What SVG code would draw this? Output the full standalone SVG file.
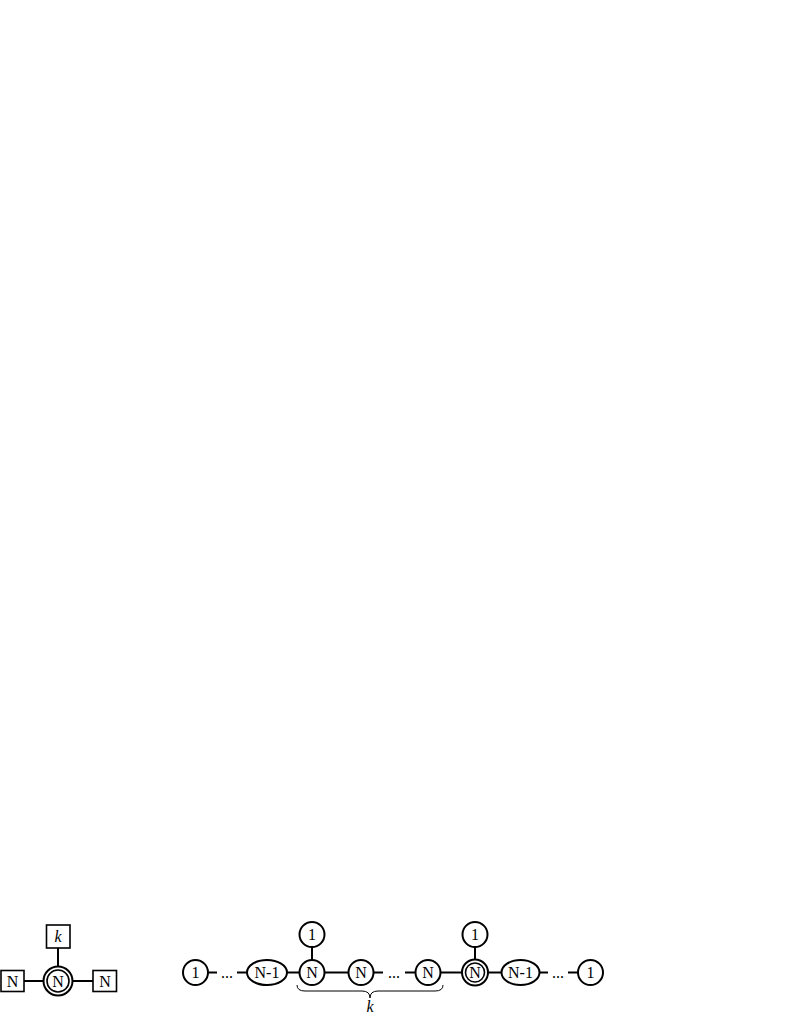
<svg xmlns="http://www.w3.org/2000/svg" width="789" height="1021" viewBox="0 0 789 1021">
<style>
.s{fill:#fff;stroke:#000;stroke-width:2}
.d{fill:#fff;stroke:#000;stroke-width:1.6}
.e{stroke:#000;stroke-width:2;fill:none}
.t{font-family:"Liberation Serif","Times New Roman",serif;font-size:16px;text-anchor:middle;fill:#000}
.i{font-style:italic}
</style>
<rect width="789" height="1021" fill="#fff"/>
<g id="edges">
<line class="e" x1="58" y1="948" x2="58" y2="967"/>
<line class="e" x1="24" y1="981" x2="44" y2="981"/>
<line class="e" x1="72" y1="981" x2="93" y2="981"/>
<line class="e" x1="208" y1="972.5" x2="217" y2="972.5"/>
<line class="e" x1="237" y1="972.5" x2="248" y2="972.5"/>
<line class="e" x1="287" y1="972.5" x2="300" y2="972.5"/>
<line class="e" x1="312" y1="947" x2="312" y2="960"/>
<line class="e" x1="324" y1="972.5" x2="349" y2="972.5"/>
<line class="e" x1="373" y1="972.5" x2="383" y2="972.5"/>
<line class="e" x1="405" y1="972.5" x2="416" y2="972.5"/>
<line class="e" x1="440" y1="972.5" x2="462" y2="972.5"/>
<line class="e" x1="475" y1="947" x2="475" y2="960"/>
<line class="e" x1="488" y1="972.5" x2="502" y2="972.5"/>
<line class="e" x1="539" y1="972.5" x2="548" y2="972.5"/>
<line class="e" x1="568" y1="972.5" x2="578" y2="972.5"/>
<path d="M297,985 Q297,991 305,991 L362,991 Q370,991 370,998 Q370,991 378,991 L435,991 Q443,991 443,985" fill="none" stroke="#000" stroke-width="1"/>
</g>
<g id="k_box"><rect class="d" x="46.5" y="925" width="23.5" height="23"/><text class="t i" x="58" y="942">k</text></g>
<g id="n_left"><rect class="d" x="1" y="970.5" width="23" height="21"/><text class="t" x="12.5" y="986.5">N</text></g>
<g id="n_right"><rect class="d" x="93" y="970.5" width="23.5" height="21"/><text class="t" x="105" y="986.5">N</text></g>
<g id="n_center"><circle class="s" cx="58" cy="981" r="14.5"/><circle class="d" cx="58" cy="981" r="11"/><text class="t" x="58" y="986.5">N</text></g>
<g id="c1"><circle class="s" cx="195.5" cy="972.5" r="12.5"/><text class="t" x="195.5" y="978">1</text></g>
<g id="dots1"><text class="t" x="227" y="978">...</text></g>
<g id="e1"><ellipse class="s" cx="267" cy="972.5" rx="20" ry="12.5"/><text class="t" x="267" y="978">N-1</text></g>
<g id="c2"><circle class="s" cx="312" cy="972.5" r="12.5"/><text class="t" x="312" y="978">N</text></g>
<g id="c2top"><circle class="s" cx="312" cy="934.5" r="12.5"/><text class="t" x="312" y="940">1</text></g>
<g id="c3"><circle class="s" cx="361" cy="972.5" r="12.5"/><text class="t" x="361" y="978">N</text></g>
<g id="dots2"><text class="t" x="394" y="978">...</text></g>
<g id="c4"><circle class="s" cx="428" cy="972.5" r="12.5"/><text class="t" x="428" y="978">N</text></g>
<g id="c5"><circle class="s" cx="475" cy="972.5" r="13"/><circle class="d" cx="475" cy="972.5" r="9.5"/><text class="t" x="475" y="978">N</text></g>
<g id="c5top"><circle class="s" cx="475" cy="934.5" r="12.5"/><text class="t" x="475" y="940">1</text></g>
<g id="e2"><ellipse class="s" cx="520.5" cy="972.5" rx="19" ry="12.5"/><text class="t" x="520.5" y="978">N-1</text></g>
<g id="dots3"><text class="t" x="558" y="978">...</text></g>
<g id="c6"><circle class="s" cx="590.5" cy="972.5" r="12.5"/><text class="t" x="590.5" y="978">1</text></g>
<g id="brace_label"><text class="t i" x="370" y="1012">k</text></g>
</svg>
